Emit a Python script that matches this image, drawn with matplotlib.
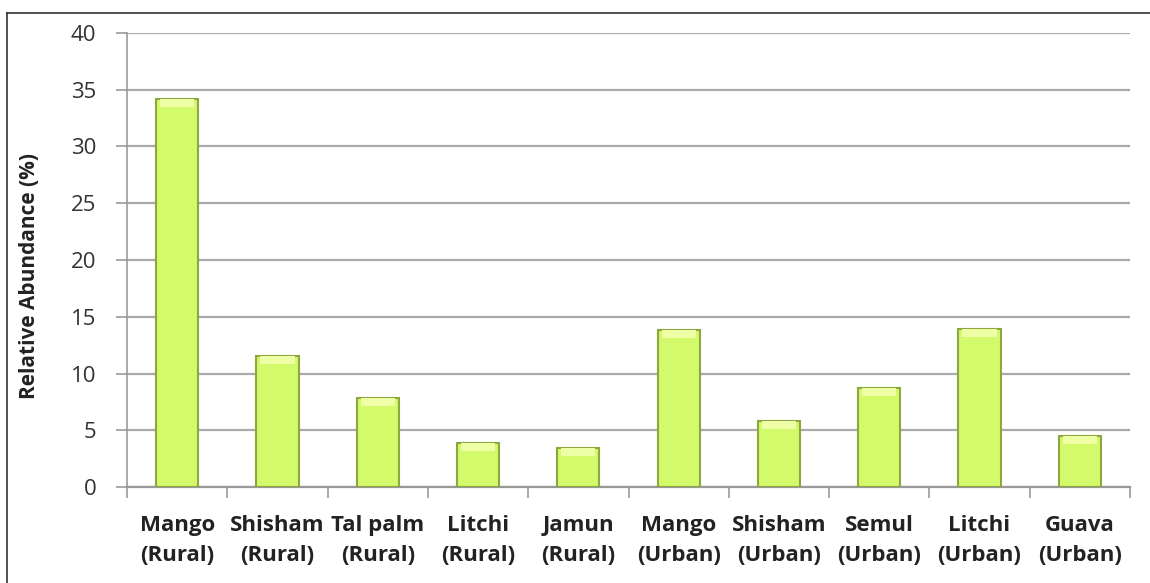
import matplotlib.pyplot as plt
import numpy as np
from matplotlib.lines import Line2D

trees = ["Mango", "Shisham", "Tal palm", "Litchi", "Jamun",
         "Mango", "Shisham", "Semul", "Litchi", "Guava"]
areas = ["Rural", "Rural", "Rural", "Rural", "Rural",
         "Urban", "Urban", "Urban", "Urban", "Urban"]
abundance = [34.2, 11.5, 7.8, 3.9, 3.4, 13.8, 5.8, 8.7, 13.9, 4.5]
y_ticks = [0, 5, 10, 15, 20, 25, 30, 35, 40]

plt.rcParams['font.family'] = ['Open Sans', 'DejaVu Sans']

fig = plt.figure(figsize=(11.5, 5.83), dpi=100)
ax = fig.add_axes([127 / 1150, 1 - 487 / 583, 1003 / 1150, 454 / 583])

x = np.arange(len(abundance))
ax.bar(x, abundance, width=0.42, color="#d3fa6a", edgecolor="#8da63e",
       linewidth=1.5, zorder=3)
# lighter bevel at the top of each bar
hl = 0.7
ax.bar(x, [hl] * len(abundance), bottom=np.array(abundance) - hl, width=0.34,
       color="#eeffa6", linewidth=0, zorder=4)

ax.set_xlim(-0.5, len(abundance) - 0.5)
ax.set_ylim(0, 40)
ax.set_yticks(y_ticks)
ax.set_yticklabels([str(v) for v in y_ticks], fontsize=16, color="#333333")
ax.yaxis.grid(True, color="#aaaaaa", linewidth=1.6, zorder=0)
ax.set_axisbelow(True)

ax.set_xticks(x)
ax.set_xticklabels([f"{t}\n({a})" for t, a in zip(trees, areas)],
                   fontsize=16, fontweight="bold", color="#222222", linespacing=1.55)
ax.tick_params(axis="x", length=0, pad=20)
ax.set_xticks(np.arange(len(abundance) + 1) - 0.5, minor=True)
ax.tick_params(axis="x", which="minor", length=8, color="#999999", width=1.2, direction="out")
ax.tick_params(axis="y", length=8, color="#999999", width=1.2, pad=14)

for s in ["top", "right"]:
    ax.spines[s].set_visible(False)
ax.spines["left"].set_color("#999999")
ax.spines["left"].set_linewidth(1.2)
ax.spines["bottom"].set_color("#999999")
ax.spines["bottom"].set_linewidth(1.6)

ax.set_ylabel("Relative Abundance (%)", fontsize=15, fontweight="bold",
              color="#222222")
ax.yaxis.set_label_coords(-0.087, 0.465)

# outer chart frame
fig.add_artist(Line2D([7 / 1150, 7 / 1150], [0, 1 - 13 / 583], color="#333333", linewidth=1.2))
fig.add_artist(Line2D([7 / 1150, 1], [1 - 13 / 583, 1 - 13 / 583], color="#333333", linewidth=1.2))

fig.savefig("out.png", dpi=100, facecolor="white")
